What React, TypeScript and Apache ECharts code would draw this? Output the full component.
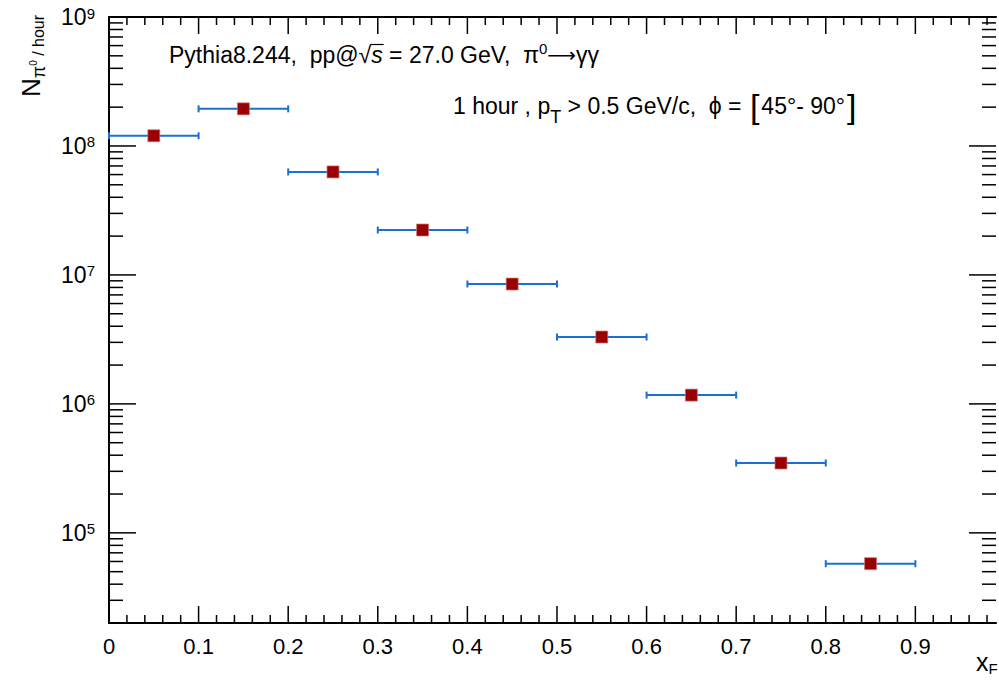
import React, { useEffect, useRef } from "react";
import * as echarts from "echarts";

// ---- data ----
const binCenters = [0.05, 0.15, 0.25, 0.35, 0.45, 0.55, 0.65, 0.75, 0.85];
const binLow = [0.0, 0.1, 0.2, 0.3, 0.4, 0.5, 0.6, 0.7, 0.8];
const binHigh = [0.1, 0.2, 0.3, 0.4, 0.5, 0.6, 0.7, 0.8, 0.9];
const counts = [1.2e8, 1.94e8, 6.29e7, 2.23e7, 8.5e6, 3.3e6, 1.17e6, 3.48e5, 5.77e4];

const xMajorTicks = [0, 0.1, 0.2, 0.3, 0.4, 0.5, 0.6, 0.7, 0.8, 0.9];
const xMinorSteps = [0.02, 0.04, 0.06, 0.08];
const yMajorTicks = [1e5, 1e6, 1e7, 1e8, 1e9];
const yMinorMultipliers = [2, 3, 4, 5, 6, 7, 8, 9];
const yDecades = [1e4, 1e5, 1e6, 1e7, 1e8];

const X_MIN = 0;
const X_MAX = 0.99;
const Y_MIN = 2e4;
const Y_MAX = 1e9;

const xMinorTicks: number[] = [];
xMajorTicks.forEach((m) =>
  xMinorSteps.forEach((s) => {
    const v = +(m + s).toFixed(3);
    if (v < X_MAX) xMinorTicks.push(v);
  })
);
const yMinorTicks: number[] = [];
yDecades.forEach((d) =>
  yMinorMultipliers.forEach((k) => {
    const v = d * k;
    if (v >= Y_MIN && v <= Y_MAX) yMinorTicks.push(v);
  })
);

const FONT = "'Liberation Sans', Arial, Helvetica, 'DejaVu Sans', sans-serif";
const BLUE = "#1c6fd2";
const RED = "#990000";
const TITLE_SIZE = 23;
const TITLE_X = 169;
const TITLE_Y = 55;
const TITLE_PREFIX = "Pythia8.244,  pp@√";

function measure(text: string, font: string): number {
  const c = document.createElement("canvas").getContext("2d");
  if (!c) return text.length * 10;
  c.font = font;
  return c.measureText(text).width;
}

export default function App() {
  const ref = useRef<HTMLDivElement>(null);
  useEffect(() => {
    if (!ref.current) return;
    const chart = echarts.init(ref.current, null, { renderer: "svg" });

    const axisLine = { show: true, lineStyle: { color: "#000", width: 2 } };

    const prefW = measure(TITLE_PREFIX, `${TITLE_SIZE}px 'Liberation Sans'`);
    const sW = measure("s", `italic ${TITLE_SIZE}px 'Liberation Sans'`);
    const vincX1 = TITLE_X + prefW - 1;
    const vincX2 = TITLE_X + prefW + sW + 1;
    const vincY = TITLE_Y - 0.5 * TITLE_SIZE + 1;

    const option: any = {
      animation: false,
      backgroundColor: "#fff",
      grid: { left: 109, right: 1, top: 17, bottom: 57, containLabel: false },
      xAxis: [
        {
          type: "value",
          position: "bottom",
          min: X_MIN,
          max: X_MAX,
          interval: 0.1,
          axisLine,
          axisTick: { show: false },
          splitLine: { show: false },
          axisLabel: {
            color: "#000",
            fontSize: 22,
            fontFamily: FONT,
            margin: 12,
            formatter: (v: number) => (v > 0.95 ? "" : String(+v.toFixed(2))),
          },
        },
        {
          type: "value",
          position: "top",
          min: X_MIN,
          max: X_MAX,
          interval: 0.1,
          axisLine,
          axisTick: { show: false },
          splitLine: { show: false },
          axisLabel: { show: false },
        },
      ],
      yAxis: [
        {
          type: "log",
          logBase: 10,
          position: "left",
          min: Y_MIN,
          max: Y_MAX,
          axisLine,
          axisTick: { show: false },
          splitLine: { show: false },
          axisLabel: {
            color: "#000",
            fontFamily: FONT,
            margin: 14,
            formatter: (v: number) => {
              const e = Math.log10(v);
              if (Math.abs(e - Math.round(e)) > 1e-6) return "";
              return `{b|10}{s|${Math.round(e)}}`;
            },
            rich: {
              b: { fontSize: 23, fontFamily: FONT, color: "#000" },
              s: { fontSize: 15, fontFamily: FONT, color: "#000", verticalAlign: "top" },
            },
          },
        },
        {
          type: "log",
          logBase: 10,
          position: "right",
          min: Y_MIN,
          max: Y_MAX,
          axisLine,
          axisTick: { show: false },
          splitLine: { show: false },
          axisLabel: { show: false },
        },
      ],
      series: [
        {
          type: "custom",
          name: "xticks",
          silent: true,
          z: 1,
          data: xMajorTicks
            .map((v) => [v, Y_MIN, 1])
            .concat(xMinorTicks.map((v) => [v, Y_MIN, 0])),
          renderItem: (params: any, api: any) => {
            const x = api.value(0);
            const major = api.value(2) === 1;
            const b = api.coord([x, Y_MIN]);
            const t = api.coord([x, Y_MAX]);
            const len = major ? 17 : 8;
            const st = { stroke: "#000", lineWidth: 1.5 };
            return {
              type: "group",
              children: [
                { type: "line", shape: { x1: b[0], y1: b[1], x2: b[0], y2: b[1] - len }, style: st },
                { type: "line", shape: { x1: t[0], y1: t[1], x2: t[0], y2: t[1] + len }, style: st },
              ],
            };
          },
        },
        {
          type: "custom",
          name: "yticks",
          silent: true,
          z: 1,
          data: yMajorTicks
            .map((v) => [X_MIN, v, 1])
            .concat(yMinorTicks.map((v) => [X_MIN, v, 0])),
          renderItem: (params: any, api: any) => {
            const y = api.value(1);
            const major = api.value(2) === 1;
            const l = api.coord([X_MIN, y]);
            const r = api.coord([X_MAX, y]);
            const len = major ? 27 : 14;
            const st = { stroke: "#000", lineWidth: 1.5 };
            return {
              type: "group",
              children: [
                { type: "line", shape: { x1: l[0], y1: l[1], x2: l[0] + len, y2: l[1] }, style: st },
                { type: "line", shape: { x1: r[0], y1: r[1], x2: r[0] - len, y2: r[1] }, style: st },
              ],
            };
          },
        },
        {
          type: "custom",
          name: "errors",
          silent: true,
          z: 2,
          encode: { x: [0, 1], y: 2 },
          data: binCenters.map((c, i) => [binLow[i], binHigh[i], counts[i]]),
          renderItem: (params: any, api: any) => {
            const p0 = api.coord([api.value(0), api.value(2)]);
            const p1 = api.coord([api.value(1), api.value(2)]);
            const st = { stroke: BLUE, lineWidth: 2 };
            const h = 3.5;
            return {
              type: "group",
              children: [
                { type: "line", shape: { x1: p0[0], y1: p0[1], x2: p1[0], y2: p1[1] }, style: st },
                { type: "line", shape: { x1: p0[0], y1: p0[1] - h, x2: p0[0], y2: p0[1] + h }, style: st },
                { type: "line", shape: { x1: p1[0], y1: p1[1] - h, x2: p1[0], y2: p1[1] + h }, style: st },
              ],
            };
          },
        },
        {
          type: "scatter",
          name: "counts",
          z: 3,
          symbol: "rect",
          symbolSize: 12,
          itemStyle: { color: RED, borderColor: "rgba(210,120,120,0.7)", borderWidth: 1, opacity: 1 },
          data: binCenters.map((c, i) => [c, counts[i]]),
        },
      ],
      graphic: [
        {
          type: "text",
          x: TITLE_X,
          y: TITLE_Y,
          style: {
            text: "Pythia8.244,  pp@√{it|s} = 27.0 GeV,  π{sup|0}{ar|⟶}γγ",
            fontSize: TITLE_SIZE,
            fontFamily: FONT,
            fill: "#000",
            verticalAlign: "middle",
            align: "left",
            rich: {
              it: { fontSize: TITLE_SIZE, fontFamily: FONT, fontStyle: "italic" },
              sup: { fontSize: 15, fontFamily: FONT, padding: [0, 0, 14, 0] },
              ar: { fontSize: 20, fontFamily: "'DejaVu Sans', sans-serif" },
            },
          },
        },
        {
          type: "line",
          shape: { x1: vincX1, y1: vincY, x2: vincX2, y2: vincY },
          style: { stroke: "#000", lineWidth: 1.2 },
        },
        {
          type: "text",
          x: 453,
          y: 106,
          style: {
            text: "1 hour , p{sub|T} > 0.5 GeV/c,  ϕ = {br|[}45°- 90°{br|]}",
            fontSize: TITLE_SIZE,
            fontFamily: FONT,
            fill: "#000",
            verticalAlign: "middle",
            align: "left",
            rich: {
              sub: { fontSize: 18, fontFamily: FONT, padding: [22, 0, 0, 0] },
              br: { fontSize: 34, fontFamily: FONT, padding: [0, 2, 0, 2] },
            },
          },
        },
        {
          type: "text",
          x: 31,
          y: 56,
          rotation: Math.PI / 2,
          style: {
            text: "N{pi|π}{z|0}{h| / hour}",
            fontSize: 26,
            fontFamily: FONT,
            fill: "#000",
            align: "center",
            verticalAlign: "middle",
            rich: {
              pi: { fontSize: 18, fontFamily: FONT, padding: [16, 0, 0, 0] },
              z: { fontSize: 10, fontFamily: FONT, padding: [4, 0, 0, 0] },
              h: { fontSize: 16, fontFamily: FONT, padding: [14, 0, 0, 0] },
            },
          },
        },
        {
          type: "text",
          x: 976,
          y: 662,
          style: {
            text: "x{f|F}",
            fontSize: 25,
            fontFamily: FONT,
            fill: "#000",
            align: "left",
            verticalAlign: "middle",
            rich: {
              f: { fontSize: 15, fontFamily: FONT, padding: [12, 0, 0, 0] },
            },
          },
        },
      ],
    };
    chart.setOption(option);
    return () => chart.dispose();
  }, []);
  return (
    <div
      ref={ref}
      style={{ position: "fixed", left: 0, top: 0, width: 999, height: 680, background: "#fff" }}
    />
  );
}
